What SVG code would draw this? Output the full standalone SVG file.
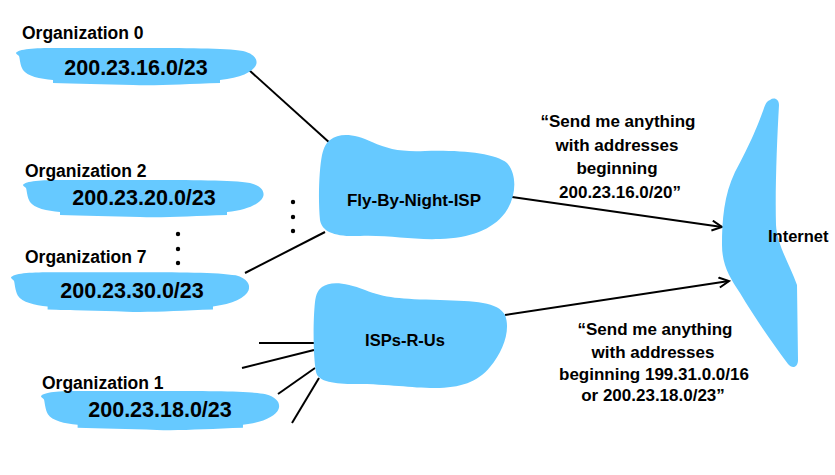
<svg xmlns="http://www.w3.org/2000/svg" xmlns:xlink="http://www.w3.org/1999/xlink" width="835" height="475" viewBox="0 0 835 475">
<style>
  .blob { fill: #66c9ff; stroke: none; }
  .t { font-family: "Liberation Sans", Arial, sans-serif; font-weight: bold; fill: #000; }
  .lbl { font-size: 17.5px; }
  .addr { font-size: 21.5px; text-anchor: middle; }
  .isp { font-size: 17px; text-anchor: middle; }
  .q { font-size: 17px; text-anchor: middle; }
  .ln { stroke: #000; stroke-width: 2; fill: none; }
  .dot { fill: #000; }
</style>
<defs>
  <path id="orgblob" d="M1,7 C3,3 20,2 40,2 L120,2 C170,2 210,2 228,5 C240,8 243,14 241,19 C238,26 225,32 205,34 L205,37 C170,38 140,40 118,39 C90,38 60,38 38,37 L38,34 C25,33 12,30 8,24 C5,19 5,13 4,10 C3,9 1,8 1,7 Z"/>
  <marker id="arr" markerUnits="userSpaceOnUse" markerWidth="14" markerHeight="14" refX="11" refY="6" orient="auto">
    <path d="M1,1 L11,6 L1,11" fill="none" stroke="#000" stroke-width="2"/>
  </marker>
</defs>

<g id="connectors">
  <line class="ln" x1="249" y1="70" x2="331" y2="144"/>
  <line class="ln" x1="245" y1="273" x2="325" y2="232"/>
  <line class="ln" x1="512" y1="197" x2="722" y2="227" marker-end="url(#arr)"/>
  <line class="ln" x1="505" y1="315" x2="729" y2="281" marker-end="url(#arr)"/>
  <line class="ln" x1="259" y1="343" x2="314" y2="343"/>
  <line class="ln" x1="242" y1="368" x2="314" y2="350"/>
  <line class="ln" x1="278" y1="394" x2="315" y2="368"/>
  <line class="ln" x1="292" y1="423" x2="319" y2="378"/>
  <circle class="dot" cx="293" cy="202" r="2.2"/>
  <circle class="dot" cx="293" cy="217" r="2.2"/>
  <circle class="dot" cx="293" cy="231" r="2.2"/>
  <circle class="dot" cx="178" cy="234" r="2.2"/>
  <circle class="dot" cx="178" cy="249" r="2.2"/>
  <circle class="dot" cx="178" cy="263" r="2.2"/>
</g>

<g id="org0">
  <use xlink:href="#orgblob" href="#orgblob" class="blob" transform="translate(15,46)"/>
  <text class="t lbl" x="22" y="39">Organization 0</text>
  <text class="t addr" x="136" y="75">200.23.16.0/23</text>
</g>

<g id="org2">
  <use xlink:href="#orgblob" href="#orgblob" class="blob" transform="translate(22,178)"/>
  <text class="t lbl" x="25" y="177">Organization 2</text>
  <text class="t addr" x="144" y="205">200.23.20.0/23</text>
</g>

<g id="org7">
  <use xlink:href="#orgblob" href="#orgblob" class="blob" transform="translate(10,270) scale(0.99,1.07)"/>
  <text class="t lbl" x="25" y="263">Organization 7</text>
  <text class="t addr" x="132" y="298">200.23.30.0/23</text>
</g>

<g id="org1">
  <use xlink:href="#orgblob" href="#orgblob" class="blob" transform="translate(40,389) scale(0.99,1.05)"/>
  <text class="t lbl" x="42" y="389">Organization 1</text>
  <text class="t addr" x="160" y="417">200.23.18.0/23</text>
</g>

<g id="fly-by-night-isp">
  <path class="blob" d="M330,140 C340,132 355,134 372,142 C388,149 400,152 425,151 C460,150 495,153 507,163 C518,175 516,198 505,213 C492,230 470,238 440,239 C410,240 390,235 360,236 C335,237 322,232 320,220 C318,200 319,170 322,155 C324,147 326,143 330,140 Z"/>
  <text class="t isp" x="414" y="206">Fly-By-Night-ISP</text>
</g>

<g id="isps-r-us">
  <path class="blob" d="M322,287 C330,281 345,282 365,290 C385,298 400,299 440,300 C475,301 498,302 505,315 C511,330 503,352 490,367 C478,382 460,388 435,388 C410,388 390,384 355,384 C335,384 318,382 316,372 C313,355 313,320 315,302 C316,294 318,290 322,287 Z"/>
  <text class="t isp" x="405" y="346" style="font-size:16.5px">ISPs-R-Us</text>
</g>

<g id="internet">
  <path class="blob" d="M770,100 C774,97 779,99 779,105 C777,140 775,190 776,225 C777,245 790,265 797,285 L798,360 C798,368 792,369 788,364 C770,340 755,318 740,293 C730,278 722,265 722,245 C722,220 724,195 735,172 C750,145 760,120 764,108 C766,103 767,101 770,100 Z"/>
  <text class="t" x="768" y="242" style="font-size:16.5px">Internet</text>
</g>

<g id="quote1">
  <text class="t q" x="618" y="127">“Send me anything</text>
  <text class="t q" x="617" y="151">with addresses</text>
  <text class="t q" x="617" y="174">beginning</text>
  <text class="t q" x="620" y="198">200.23.16.0/20”</text>
</g>

<g id="quote2">
  <text class="t q" x="655" y="335">“Send me anything</text>
  <text class="t q" x="653" y="358">with addresses</text>
  <text class="t q" x="654" y="380">beginning 199.31.0.0/16</text>
  <text class="t q" x="653" y="401">or 200.23.18.0/23”</text>
</g>
</svg>
